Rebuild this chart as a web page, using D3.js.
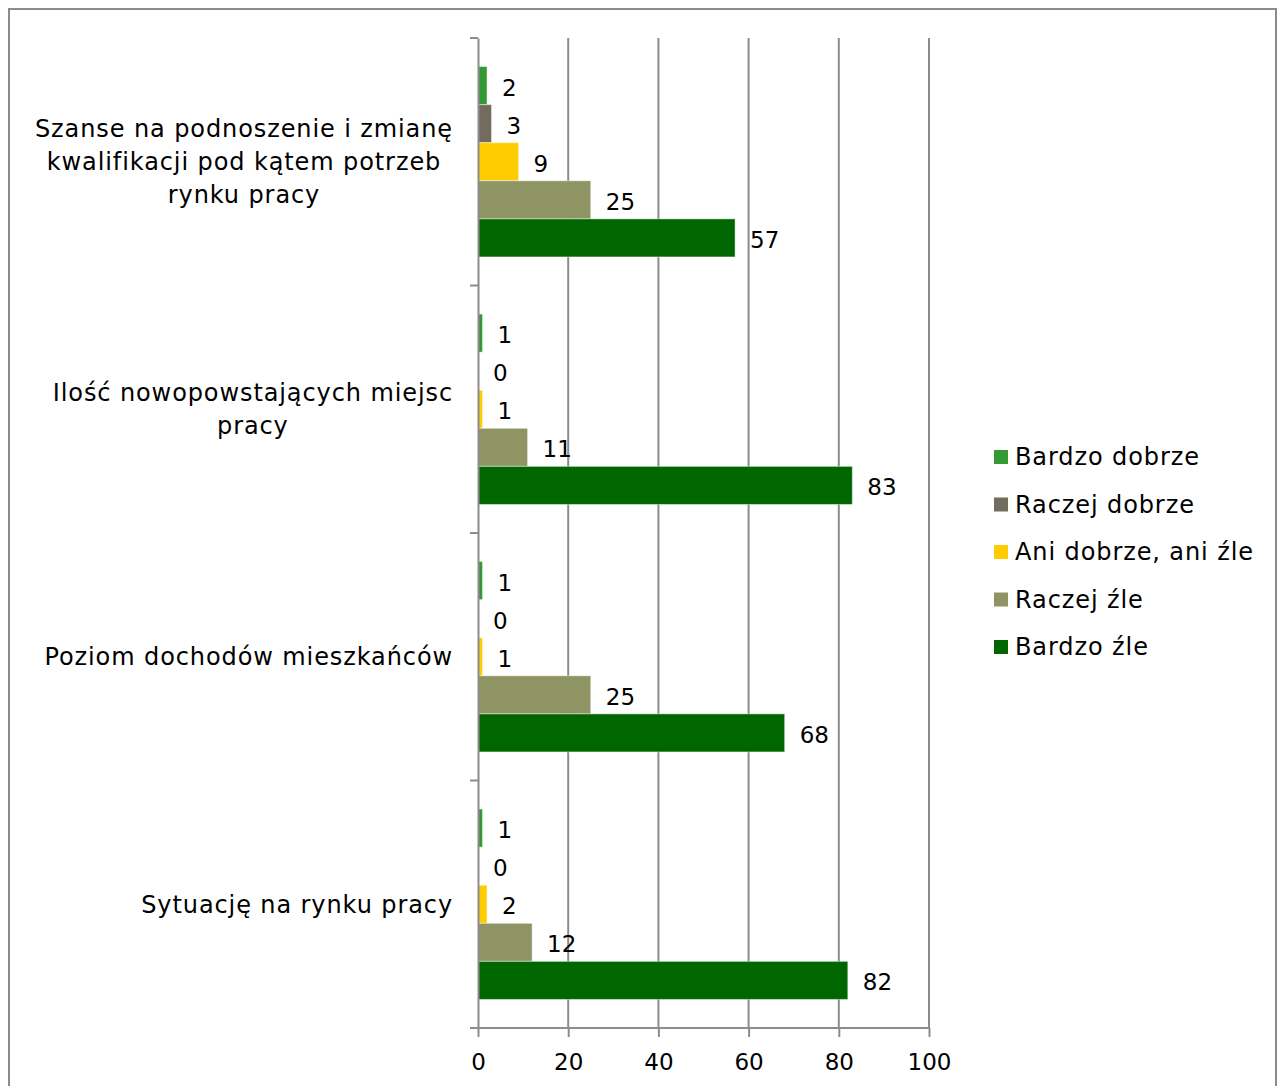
<!DOCTYPE html>
<html><head><meta charset="utf-8">
<script src="https://cdn.jsdelivr.net/npm/d3@7"></script>
<style>
body{margin:0;background:#fff;}
svg{display:block;font-family:"DejaVu Sans",sans-serif;}
</style></head><body>
<svg id="c" width="1278" height="1086"></svg>
<script>
const categories = [
  "Szanse na podnoszenie i zmianę kwalifikacji pod kątem potrzeb rynku pracy",
  "Ilość nowopowstających miejsc pracy",
  "Poziom dochodów mieszkańców",
  "Sytuację na rynku pracy"
];
const categoryLines = [
  ["Szanse na podnoszenie i zmianę", "kwalifikacji pod kątem potrzeb", "rynku pracy"],
  ["Ilość nowopowstających miejsc", "pracy"],
  ["Poziom dochodów mieszkańców"],
  ["Sytuację na rynku pracy"]
];
const seriesNames = ["Bardzo dobrze", "Raczej dobrze", "Ani dobrze, ani źle", "Raczej źle", "Bardzo źle"];
const seriesColors = ["#339933", "#736b5e", "#ffcc00", "#8f9464", "#006600"];
const bardzoDobrze = [2, 1, 1, 1];
const raczejDobrze = [3, 0, 0, 0];
const aniDobrzeAniZle = [9, 1, 1, 2];
const raczejZle = [25, 11, 25, 12];
const bardzoZle = [57, 83, 68, 82];
const seriesValues = [bardzoDobrze, raczejDobrze, aniDobrzeAniZle, raczejZle, bardzoZle];
const xTicks = [0, 20, 40, 60, 80, 100];

const svg = d3.select("#c");
const FS = 23, TFS = 24, LS = 0.9;
const x0 = 478, x1 = 929, yTop = 38, yBot = 1028;
const x = d3.scaleLinear().domain([0, 100]).range([x0, x1]);
const y = d3.scaleBand().domain(categories).range([yTop, yBot]);
const inner = d3.scaleBand().domain(seriesNames).range([0, y.bandwidth()]).paddingOuter(0.75).paddingInner(0);

// outer border
svg.append("rect").attr("x", 9).attr("y", 9).attr("width", 1267).attr("height", 1090)
  .attr("fill", "none").attr("stroke", "#8c8c8c").attr("stroke-width", 2);

// gridlines
svg.append("g").selectAll("line").data(xTicks.slice(1)).join("line")
  .attr("x1", d => x(d)).attr("x2", d => x(d)).attr("y1", yTop).attr("y2", yBot)
  .attr("stroke", "#8c8c8c").attr("stroke-width", 2);

// bars
const g = svg.append("g");
categories.forEach((c, ci) => {
  seriesNames.forEach((s, si) => {
    const v = seriesValues[si][ci];
    const by = y(c) + inner(s);
    if (v > 0) {
      g.append("rect").attr("x", x(0)).attr("y", by).attr("width", x(v) - x(0)).attr("height", inner.bandwidth())
        .attr("fill", seriesColors[si]).attr("stroke", "rgba(255,255,255,0.45)").attr("stroke-width", 1);
    }
    g.append("text").attr("x", x(v) + 15).attr("y", by + inner.bandwidth() / 2 + 2)
      .attr("dy", "0.35em").attr("font-size", FS).attr("fill", "#000").text(v);
  });
});

// y axis
const yAxis = d3.axisLeft(y).tickSize(0).tickFormat("");
svg.append("g").attr("transform", `translate(${x0},0)`).call(yAxis)
  .call(gg => gg.select(".domain").attr("stroke", "#8c8c8c").attr("stroke-width", 2));
const bounds = categories.map(c => y(c)).concat([yBot]);
svg.append("g").selectAll("line").data(bounds).join("line")
  .attr("x1", x0 - 8).attr("x2", x0).attr("y1", d => d).attr("y2", d => d)
  .attr("stroke", "#8c8c8c").attr("stroke-width", 2);

// x axis
const xAxis = d3.axisBottom(x).tickValues(xTicks).tickSize(9).tickPadding(17);
svg.append("g").attr("transform", `translate(0,${yBot})`).call(xAxis)
  .call(gg => {
    gg.select(".domain").remove();
    gg.selectAll(".tick line").attr("stroke", "#8c8c8c").attr("stroke-width", 2);
    gg.selectAll(".tick text").attr("font-size", FS).attr("fill", "#000").attr("font-family", "DejaVu Sans, sans-serif");
  });
svg.append("line").attr("x1", x0 - 8).attr("x2", x1).attr("y1", yBot).attr("y2", yBot)
  .attr("stroke", "#8c8c8c").attr("stroke-width", 2);

// category labels
const rightEdge = 453, lineH = 33;
categories.forEach((c, ci) => {
  const lines = categoryLines[ci];
  const t = svg.append("text").attr("font-size", TFS).attr("letter-spacing", LS).attr("fill", "#000").attr("text-anchor", "middle");
  const cy = y(c) + y.bandwidth() / 2;
  const startY = cy - (lines.length - 1) * lineH / 2;
  const spans = lines.map((l, li) => t.append("tspan").attr("y", startY + li * lineH).attr("dy", "0.35em").text(l));
  const w = d3.max(spans, s => s.node().getComputedTextLength());
  spans.forEach(s => s.attr("x", rightEdge - w / 2));
});

// legend
const lg = svg.append("g");
seriesNames.forEach((s, i) => {
  const ly = 457 + i * 47.5;
  lg.append("rect").attr("x", 994).attr("y", ly - 7).attr("width", 14).attr("height", 14).attr("fill", seriesColors[i]);
  lg.append("text").attr("x", 1015).attr("y", ly).attr("dy", "0.35em").attr("font-size", TFS).attr("letter-spacing", LS).attr("fill", "#000").text(s);
});
</script>
</body></html>
